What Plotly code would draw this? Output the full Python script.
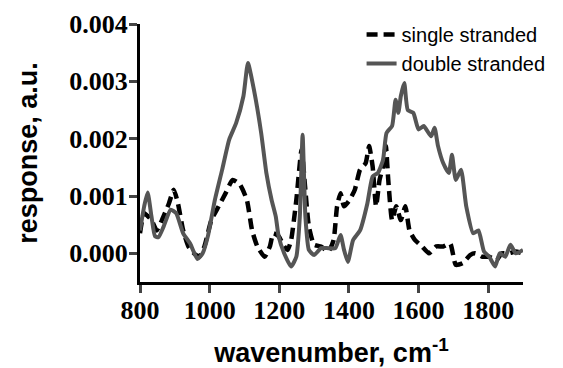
import plotly.graph_objects as go

ds_x = [800, 812, 822, 833, 843, 853, 868, 888, 904, 924, 944, 965, 980, 995, 1015, 1036, 1056, 1076, 1097, 1110,
        1127, 1148, 1163, 1178, 1190, 1198, 1214, 1234, 1249, 1259, 1267, 1275, 1285, 1300, 1320, 1341, 1361, 1376,
        1386, 1397, 1412, 1432, 1453, 1468, 1483, 1498, 1508, 1524, 1534, 1542, 1549, 1559, 1569, 1585, 1600, 1615,
        1636, 1646, 1656, 1671, 1687, 1696, 1707, 1722, 1737, 1757, 1772, 1788, 1803, 1820, 1833, 1849, 1864, 1879, 1900]
ds_y = [0.0004, 0.00082, 0.00106, 0.00064, 0.0003, 0.00028, 0.00047, 0.00076, 0.0007, 0.00035, 0.00017, -0.0001,
        0.0, 0.0003, 0.00093, 0.00146, 0.00198, 0.00227, 0.00274, 0.00332, 0.00286, 0.0021, 0.0014, 0.00093, 0.00064,
        0.0003, 0.0, -0.00023, -0.00006, 0.00064, 0.00207, 0.00064, 0.00006, -0.00003, 0.00009, 0.00009, 0.00009,
        0.00032, 0.00006, -0.00015, 0.00023, 0.0004, 0.00087, 0.00134, 0.0014, 0.00163, 0.0021, 0.00222, 0.00268,
        0.00245, 0.00274, 0.00297, 0.0025, 0.00245, 0.00216, 0.00222, 0.00204, 0.00219, 0.00187, 0.00157, 0.0014,
        0.00172, 0.00128, 0.00146, 0.00082, 0.00035, 0.0004, 0.00003, -0.00006, -0.00023, 0.0, -0.00006, 0.00015,
        0.0, 0.00006]

ss_x = [800, 812, 833, 848, 863, 883, 897, 909, 924, 939, 955, 970, 985, 1005, 1026, 1046, 1066, 1087, 1107, 1122,
        1137, 1158, 1173, 1183, 1198, 1214, 1224, 1234, 1249, 1264, 1274, 1285, 1300, 1320, 1341, 1356, 1366, 1376,
        1386, 1402, 1417, 1432, 1448, 1458, 1468, 1478, 1488, 1498, 1506, 1513, 1524, 1536, 1549, 1562, 1574, 1590,
        1610, 1630, 1651, 1671, 1691, 1707, 1727, 1748, 1763, 1783, 1803, 1824, 1839, 1859, 1879, 1900]
ss_y = [0.00035, 0.0007, 0.00058, 0.0004, 0.00058, 0.00087, 0.00111, 0.00087, 0.0004, 0.00012, 0.0, -0.00006,
        0.00012, 0.00058, 0.00082, 0.00105, 0.00128, 0.0012, 0.00093, 0.0004, 0.00012, -0.00006, 0.00012, 0.00035,
        0.0003, 0.00012, 0.00006, 0.00023, 0.00093, 0.00181, 0.00117, 0.00047, 0.00015, 0.00012, 0.00003, 0.00023,
        0.00082, 0.00105, 0.00082, 0.00093, 0.00111, 0.00146, 0.00157, 0.00187, 0.00152, 0.00082, 0.00128, 0.00152,
        0.00187, 0.00128, 0.00058, 0.00082, 0.00058, 0.00082, 0.0004, 0.00023, 0.00012, 0.0, 0.00012, 0.00012,
        0.00017, -0.0002, -0.00017, -0.00003, 0.0, -0.00006, -0.00006, -0.00012, 0.0, 0.0, 0.00003, 0.0]

x_ticks = [800, 1000, 1200, 1400, 1600, 1800]
y_ticks = [0.0, 0.001, 0.002, 0.003, 0.004]
y_tick_text = ["0.000", "0.001", "0.002", "0.003", "0.004"]

fig = go.Figure()
fig.add_trace(go.Scatter(x=ss_x, y=ss_y, mode="lines", name="single stranded",
                         line=dict(color="black", width=4.5, dash="11px,6px", shape="spline", smoothing=0.5)))
fig.add_trace(go.Scatter(x=ds_x, y=ds_y, mode="lines", name="double stranded",
                         line=dict(color="#555555", width=4, shape="spline", smoothing=0.5)))

tick_font = dict(family="Liberation Serif", size=26, color="black", weight="bold")
title_font = dict(family="Liberation Sans", size=27, color="black")

fig.update_layout(
    width=563, height=368,
    margin=dict(l=140, r=31, t=24, b=86),
    plot_bgcolor="white", paper_bgcolor="white",
    showlegend=True,
    legend=dict(x=1.072, y=1.035, xanchor="right", yanchor="top",
                font=dict(family="Liberation Sans", size=20, color="black"),
                bgcolor="rgba(0,0,0,0)", tracegroupgap=0, itemwidth=30),
    xaxis=dict(range=[800, 1900], tickvals=x_ticks, ticks="outside", ticklen=8, tickwidth=3,
               showline=True, linewidth=3, linecolor="black", showgrid=False, zeroline=False,
               tickfont=tick_font, automargin=False, ticklabelstandoff=-5,
               title=dict(text="<b>wavenumber, cm<sup>-1</sup></b>", font=title_font, standoff=27)),
    yaxis=dict(range=[-0.0005, 0.004], tickvals=y_ticks, ticktext=y_tick_text, ticks="outside",
               ticklen=8, tickwidth=3, showline=True, linewidth=3, linecolor="black",
               showgrid=False, zeroline=False, tickfont=tick_font, automargin=False, ticklabelstandoff=-4,
               title=dict(text="<b>response, a.u.</b>", font=title_font, standoff=24)),
)

fig.write_html("out.html", config={"displayModeBar": False},
               post_script="document.body.style.margin='0';document.body.style.overflow='hidden';")
